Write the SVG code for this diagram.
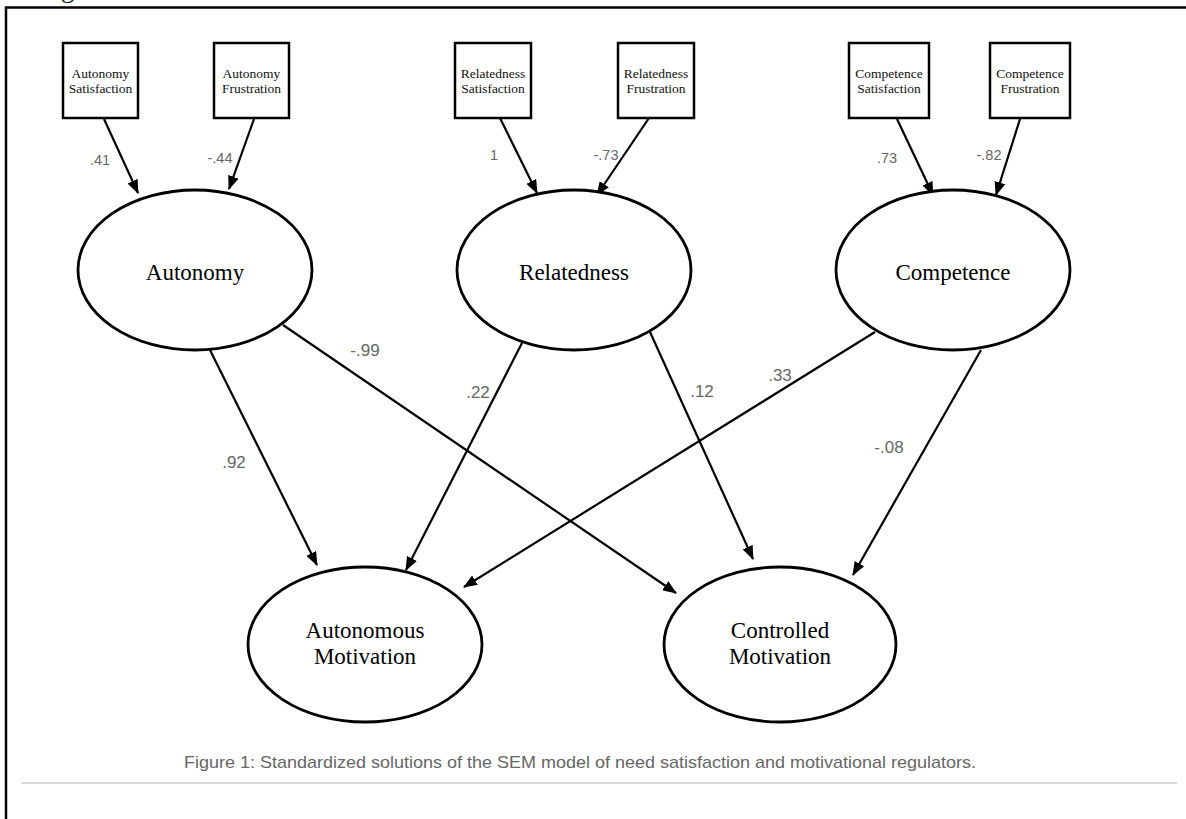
<svg xmlns="http://www.w3.org/2000/svg" width="1186" height="819" viewBox="0 0 1186 819">
<style>
.box{fill:#fff;stroke:#000;stroke-width:2.5}
.ell{fill:#fff;stroke:#000;stroke-width:2.8}
.bt{font-family:"Liberation Serif",serif;font-size:13.5px;fill:#111;text-anchor:middle}
.et{font-family:"Liberation Serif",serif;font-size:23px;fill:#000;text-anchor:middle}
.lbl{font-family:"Liberation Sans",Arial,sans-serif;font-size:14.5px;fill:#666;text-anchor:middle}
.lbl2{font-family:"Liberation Sans",Arial,sans-serif;font-size:17px;fill:#666;text-anchor:middle}
.con line{stroke:#000;stroke-width:2.2;marker-end:url(#ah)}
</style>
<defs>
<marker id="ah" markerUnits="userSpaceOnUse" markerWidth="14" markerHeight="11" refX="13" refY="5.5" orient="auto">
<path d="M0,0 L14,5.5 L0,11 z" fill="#000"/>
</marker>
</defs>
<rect width="1186" height="819" fill="#fff"/>
<text x="40" y="-3" style="font-family:'Liberation Serif',serif;font-size:27px;fill:#222">regulators</text>
<path d="M6,819 V7.5 H1186" fill="none" stroke="#000" stroke-width="2.5"/>

<g id="connectors" class="con">
<line x1="104" y1="119" x2="138" y2="193"/>
<line x1="254" y1="119" x2="229" y2="189"/>
<line x1="500" y1="118" x2="537" y2="193"/>
<line x1="649" y1="118" x2="597" y2="195"/>
<line x1="897" y1="119" x2="933" y2="195"/>
<line x1="1020" y1="119" x2="996" y2="195"/>
<line x1="210" y1="350" x2="317" y2="565"/>
<line x1="283" y1="325" x2="676" y2="593"/>
<line x1="522" y1="343" x2="406" y2="570"/>
<line x1="650" y1="332" x2="753" y2="559"/>
<line x1="875" y1="332" x2="464" y2="587"/>
<line x1="981" y1="350" x2="853" y2="575"/>
</g>

<g id="labels">
<text class="lbl" x="100" y="165">.41</text>
<text class="lbl" x="220" y="163">-.44</text>
<text class="lbl" x="494" y="160">1</text>
<text class="lbl" x="606" y="160">-.73</text>
<text class="lbl" x="887" y="163">.73</text>
<text class="lbl" x="989" y="160">-.82</text>
<text class="lbl2" x="234" y="468">.92</text>
<text class="lbl2" x="365" y="356">-.99</text>
<text class="lbl2" x="478" y="398">.22</text>
<text class="lbl2" x="702" y="397">.12</text>
<text class="lbl2" x="780" y="381">.33</text>
<text class="lbl2" x="889" y="453">-.08</text>
</g>

<g id="autonomy-satisfaction"><rect class="box" x="63" y="43" width="75" height="75"/><text class="bt" x="100.5" y="78">Autonomy</text><text class="bt" x="100.5" y="93">Satisfaction</text></g>
<g id="autonomy-frustration"><rect class="box" x="214" y="43" width="75" height="75"/><text class="bt" x="251.5" y="78">Autonomy</text><text class="bt" x="251.5" y="93">Frustration</text></g>
<g id="relatedness-satisfaction"><rect class="box" x="455" y="43" width="76" height="75"/><text class="bt" x="493" y="78">Relatedness</text><text class="bt" x="493" y="93">Satisfaction</text></g>
<g id="relatedness-frustration"><rect class="box" x="618" y="43" width="76" height="75"/><text class="bt" x="656" y="78">Relatedness</text><text class="bt" x="656" y="93">Frustration</text></g>
<g id="competence-satisfaction"><rect class="box" x="849" y="43" width="80" height="75"/><text class="bt" x="889" y="78">Competence</text><text class="bt" x="889" y="93">Satisfaction</text></g>
<g id="competence-frustration"><rect class="box" x="990" y="43" width="80" height="75"/><text class="bt" x="1030" y="78">Competence</text><text class="bt" x="1030" y="93">Frustration</text></g>

<g id="autonomy"><ellipse class="ell" cx="195" cy="270" rx="117" ry="80"/><text class="et" x="195" y="280">Autonomy</text></g>
<g id="relatedness"><ellipse class="ell" cx="574" cy="270" rx="117" ry="80"/><text class="et" x="574" y="280">Relatedness</text></g>
<g id="competence"><ellipse class="ell" cx="953" cy="270" rx="117" ry="80"/><text class="et" x="953" y="280">Competence</text></g>
<g id="autonomous-motivation"><ellipse class="ell" cx="365" cy="644.5" rx="117" ry="77.5"/><text class="et" x="365" y="638">Autonomous</text><text class="et" x="365" y="664">Motivation</text></g>
<g id="controlled-motivation"><ellipse class="ell" cx="780" cy="644.5" rx="116" ry="77.5"/><text class="et" x="780" y="638">Controlled</text><text class="et" x="780" y="664">Motivation</text></g>

<text x="184" y="768" textLength="792" lengthAdjust="spacingAndGlyphs" style="font-family:'Liberation Sans',Arial,sans-serif;font-size:17px;fill:#666">Figure 1: Standardized solutions of the SEM model of need satisfaction and motivational regulators.</text>
<line x1="21" y1="783" x2="1177" y2="783" stroke="#ccc" stroke-width="1.5"/>
</svg>
